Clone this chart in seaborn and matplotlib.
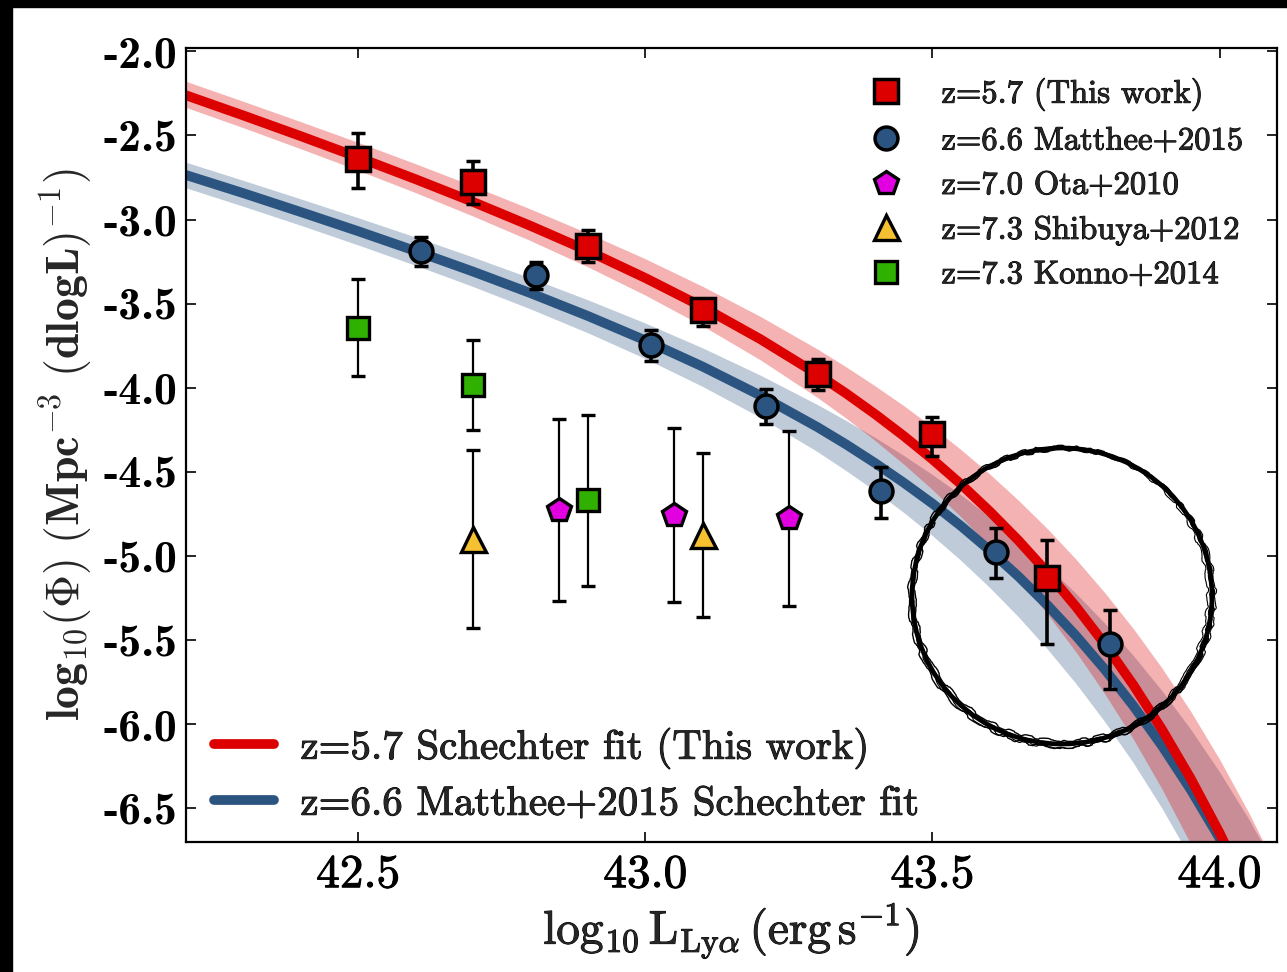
import matplotlib
matplotlib.use("Agg")
import numpy as np
import pandas as pd
import matplotlib.pyplot as plt
import matplotlib.patheffects as pe
import seaborn as sns
from matplotlib.lines import Line2D
from matplotlib.patches import Ellipse, Rectangle
from matplotlib.ticker import FormatStrFormatter, MultipleLocator

# ---- data ----
# z=5.7 (this work): value, upper end, lower end of error bar
lum_57 = [42.5, 42.7, 42.9, 43.1, 43.3, 43.5, 43.7]
phi_57 = [-2.64, -2.775, -3.154, -3.54, -3.92, -4.276, -5.132]
phi_57_top = [-2.485, -2.653, -3.063, -3.47, -3.83, -4.173, -4.903]
phi_57_bot = [-2.81, -2.91, -3.253, -3.63, -4.015, -4.405, -5.52]

# z=6.6 Matthee+2015
lum_66 = [42.61, 42.81, 43.01, 43.21, 43.41, 43.61, 43.81]
phi_66 = [-3.188, -3.33, -3.746, -4.108, -4.613, -4.977, -5.52]
phi_66_top = [-3.105, -3.253, -3.659, -4.005, -4.47, -4.834, -5.32]
phi_66_bot = [-3.277, -3.41, -3.84, -4.217, -4.771, -5.132, -5.79]

# z=7.0 Ota+2010
lum_ota = [42.85, 43.05, 43.25]
phi_ota = [-4.726, -4.755, -4.771]
phi_ota_top = [-4.187, -4.236, -4.257]
phi_ota_bot = [-5.266, -5.276, -5.296]

# z=7.3 Shibuya+2012
lum_shi = [42.7, 43.1]
phi_shi = [-4.897, -4.874]
phi_shi_top = [-4.369, -4.389]
phi_shi_bot = [-5.428, -5.365]

# z=7.3 Konno+2014
lum_kon = [42.5, 42.7, 42.9]
phi_kon = [-3.643, -3.985, -4.668]
phi_kon_top = [-3.352, -3.718, -4.16]
phi_kon_bot = [-3.93, -4.253, -5.179]

# Schechter fit curves and their shaded ranges
fit_lum = [42.2, 42.3, 42.4, 42.5, 42.6, 42.7, 42.8, 42.9, 43.0, 43.1, 43.2,
           43.3, 43.35, 43.4, 43.45, 43.5, 43.55, 43.6, 43.65, 43.7, 43.75,
           43.8, 43.85, 43.9, 43.95, 44.0, 44.05, 44.1]
fit_57 = [-2.261, -2.381, -2.504, -2.630, -2.760, -2.895, -3.037, -3.186,
          -3.347, -3.520, -3.710, -3.920, -4.034, -4.156, -4.286, -4.425,
          -4.574, -4.735, -4.908, -5.097, -5.301, -5.523, -5.767, -6.032,
          -6.324, -6.645, -6.998, -7.387]
fit_57_hi = [-2.178, -2.297, -2.418, -2.541, -2.668, -2.800, -2.937, -3.081,
             -3.233, -3.397, -3.575, -3.770, -3.876, -3.988, -4.106, -4.233,
             -4.368, -4.513, -4.669, -4.837, -5.019, -5.217, -5.432, -5.667,
             -5.924, -6.208, -6.520, -6.862]
fit_57_lo = [-2.333, -2.454, -2.579, -2.707, -2.840, -2.979, -3.125, -3.281,
             -3.449, -3.632, -3.833, -4.058, -4.181, -4.313, -4.454, -4.605,
             -4.768, -4.945, -5.136, -5.344, -5.570, -5.818, -6.089, -6.386,
             -6.713, -7.073, -7.5, -7.9]
fit_66 = [-2.735, -2.843, -2.955, -3.069, -3.187, -3.309, -3.437, -3.573,
          -3.718, -3.874, -4.045, -4.234, -4.337, -4.447, -4.564, -4.688,
          -4.822, -4.967, -5.122, -5.291, -5.474, -5.673, -5.891, -6.129,
          -6.390, -6.677, -6.992, -7.340]
fit_66_hi = [-2.659, -2.767, -2.877, -2.989, -3.104, -3.223, -3.347, -3.477,
             -3.615, -3.763, -3.924, -4.100, -4.195, -4.295, -4.402, -4.516,
             -4.637, -4.768, -4.908, -5.059, -5.222, -5.399, -5.592, -5.802,
             -6.031, -6.283, -6.559, -6.862]
fit_66_lo = [-2.811, -2.921, -3.034, -3.151, -3.272, -3.398, -3.531, -3.673,
             -3.826, -3.992, -4.175, -4.380, -4.493, -4.612, -4.741, -4.879,
             -5.027, -5.188, -5.362, -5.552, -5.758, -5.984, -6.230, -6.501,
             -6.799, -7.127, -7.5, -7.9]

RED = "#dd0000"
BLUE = "#2b5580"
MAG = "#e000e0"
YEL = "#f6c131"
GRN = "#30b000"

sns.set_style("ticks")
plt.rcParams["font.family"] = ["cmr10", "DejaVu Serif"]
plt.rcParams["mathtext.fontset"] = "cm"
plt.rcParams["axes.unicode_minus"] = False

heavy = [pe.withStroke(linewidth=0.7, foreground="k")]

fig = plt.figure(figsize=(12.87, 9.72), dpi=100)
ax = fig.add_axes([0.1445, 0.1337, 0.8477, 0.8169])

fits = pd.DataFrame({"L": fit_lum, "f57": fit_57, "f66": fit_66})

ax.fill_between(fit_lum, fit_66_lo, fit_66_hi, color=BLUE, alpha=0.3, lw=0, zorder=1)
ax.fill_between(fit_lum, fit_57_lo, fit_57_hi, color=RED, alpha=0.3, lw=0, zorder=1.1)
sns.lineplot(data=fits, x="L", y="f66", color=BLUE, lw=7, ax=ax, zorder=2,
             legend=False, sort=False)
sns.lineplot(data=fits, x="L", y="f57", color=RED, lw=7, ax=ax, zorder=2.1,
             legend=False, sort=False)


def err(vals, top, bot):
    v = np.array(vals)
    return [v - np.array(bot), np.array(top) - v]


# thin error bars for the literature points
for lx, ly, lt, lb, mk, ms, col in [
    (lum_kon, phi_kon, phi_kon_top, phi_kon_bot, "s", 16, GRN),
    (lum_ota, phi_ota, phi_ota_top, phi_ota_bot, "p", 18, MAG),
    (lum_shi, phi_shi, phi_shi_top, phi_shi_bot, "^", 18, YEL),
]:
    ax.errorbar(lx, ly, yerr=err(ly, lt, lb), fmt=mk, ms=ms,
                mfc=col, mec="k", mew=2.4, ecolor="k", elinewidth=1.6,
                capsize=5, capthick=2.4, zorder=4)

ax.errorbar(lum_66, phi_66, yerr=err(phi_66, phi_66_top, phi_66_bot), fmt="o",
            ms=16.5, mfc=BLUE, mec="k", mew=2.5, ecolor="k", elinewidth=2.6,
            capsize=5, capthick=2.6, zorder=5)
ax.errorbar(lum_57, phi_57, yerr=err(phi_57, phi_57_top, phi_57_bot), fmt="s",
            ms=17, mfc=RED, mec="k", mew=2.5, ecolor="k", elinewidth=2.6,
            capsize=5, capthick=2.6, zorder=5)

ax.set_xlim(42.2, 44.1)
ax.set_ylim(-6.7, -1.98)
ax.xaxis.set_major_locator(MultipleLocator(0.5))
ax.yaxis.set_major_locator(MultipleLocator(0.5))
ax.xaxis.set_major_formatter(FormatStrFormatter("%.1f"))
ax.yaxis.set_major_formatter(FormatStrFormatter("%.1f"))
ax.tick_params(direction="in", length=7, width=1.2, top=True, right=True,
               colors="k")
ax.tick_params(axis="x", pad=9)
ax.tick_params(axis="y", pad=6)
for lab in ax.get_xticklabels():
    lab.set_fontsize(34)
    lab.set_path_effects(heavy)
for lab in ax.get_yticklabels():
    lab.set_fontsize(33)
    lab.set_fontweight("bold")
    lab.set_family(["cmb10", "DejaVu Serif"])
for s in ax.spines.values():
    s.set_linewidth(1.6)
    s.set_color("k")

ax.set_xlabel(r"$\mathrm{log_{10}\,L_{Ly\alpha}\,(erg\,s^{-1})}$", fontsize=34,
              labelpad=4, path_effects=heavy)
ax.set_ylabel(r"$\mathbf{log_{10}(\Phi)\ (Mpc^{-3}\ (dlogL)^{-1})}$", fontsize=33,
              labelpad=6)

# point legend (upper right)
pt_handles = [
    Line2D([], [], ls="none", marker="s", ms=17, mfc=RED, mec="k", mew=2.5),
    Line2D([], [], ls="none", marker="o", ms=16.5, mfc=BLUE, mec="k", mew=2.5),
    Line2D([], [], ls="none", marker="p", ms=18, mfc=MAG, mec="k", mew=2.4),
    Line2D([], [], ls="none", marker="^", ms=18, mfc=YEL, mec="k", mew=2.4),
    Line2D([], [], ls="none", marker="s", ms=16, mfc=GRN, mec="k", mew=2.4),
]
pt_labels = ["z=5.7 (This work)", "z=6.6 Matthee+2015", "z=7.0 Ota+2010",
             "z=7.3 Shibuya+2012", "z=7.3 Konno+2014"]
leg1 = ax.legend(pt_handles, pt_labels, loc="upper right", frameon=False,
                 fontsize=23.5, handletextpad=0.7, labelspacing=0.47,
                 borderaxespad=0.3, bbox_to_anchor=(0.99, 0.992))
for t in leg1.get_texts():
    t.set_path_effects(heavy)
ax.add_artist(leg1)

ln_handles = [Line2D([], [], color=RED, lw=7), Line2D([], [], color=BLUE, lw=7)]
ln_labels = ["z=5.7 Schechter fit (This work)", "z=6.6 Matthee+2015 Schechter fit"]
leg2 = ax.legend(ln_handles, ln_labels, loc="lower left", frameon=False,
                 fontsize=29.5, handlelength=1.45, handletextpad=0.65,
                 labelspacing=0.42, borderaxespad=0.4,
                 bbox_to_anchor=(-0.004, -0.017))
for t in leg2.get_texts():
    t.set_path_effects(heavy)

# hand drawn circle: a solid ring plus a few rough brush strokes
ring = Ellipse((1062 / 1287, 1 - 596 / 972), 300 / 1287, 296 / 972, fill=False,
               ec="k", lw=3.4, transform=fig.transFigure, zorder=10)
fig.add_artist(ring)
strokes = [(296, 291, 1, -1, 1.0), (305, 301, -1, 1, 1.0),
           (303, 294, 2, 1, 0.8), (295, 295, -2, 0, 0.8), (301, 299, 0, 2, 0.8)]
for w, h, dx, dy, lw in strokes:
    e = Ellipse(((1062 + dx) / 1287, 1 - (596 + dy) / 972), w / 1287, h / 972,
                fill=False, ec="k", lw=lw, transform=fig.transFigure, zorder=10)
    e.set_sketch_params(scale=1.2, length=40, randomness=8)
    fig.add_artist(e)

# black border strips at top and left of the figure image
fig.add_artist(Rectangle((0, 1 - 7 / 972), 1, 7 / 972, color="k",
                         transform=fig.transFigure, zorder=20))
fig.add_artist(Rectangle((0, 0), 12 / 1287, 1, color="k",
                         transform=fig.transFigure, zorder=20))

fig.savefig("out.png", dpi=100, facecolor="white")
